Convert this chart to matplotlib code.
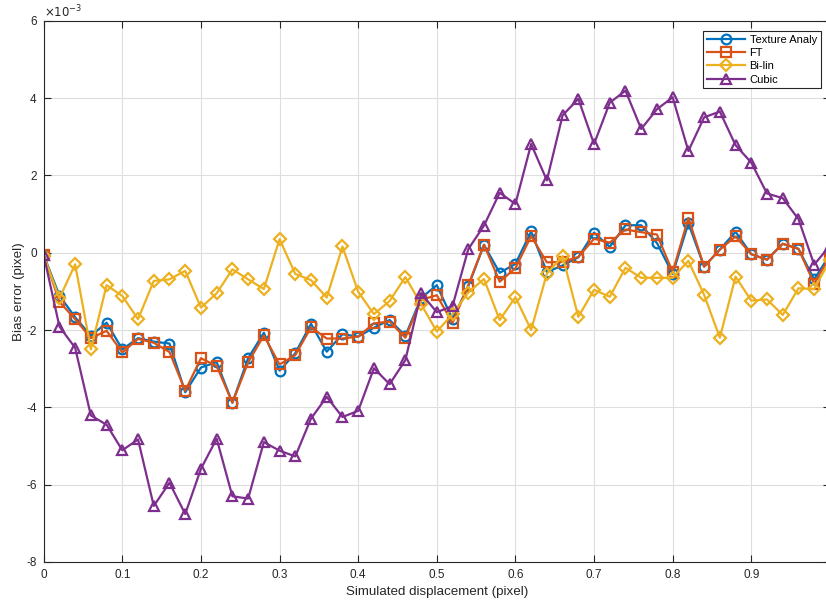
import numpy as np
import matplotlib
matplotlib.use("Agg")
import matplotlib.pyplot as plt

plt.rcParams["font.family"] = ["Liberation Sans", "DejaVu Sans"]
plt.rcParams["axes.unicode_minus"] = False

# Simulated displacement (pixel), step 0.02
x = np.round(np.arange(0, 51) * 0.02, 2)

# Bias error values, units of 1e-3 pixel
texture = [-0.06, -1.11, -1.67, -2.15, -1.81, -2.50, -2.21, -2.30, -2.35, -3.61,
           -2.97, -2.83, -3.88, -2.73, -2.07, -3.05, -2.60, -1.84, -2.56, -2.11,
           -2.17, -1.94, -1.74, -2.15, -1.17, -0.84, -1.72, -0.87, 0.20, -0.52,
           -0.29, 0.55, -0.50, -0.33, -0.12, 0.52, 0.15, 0.71, 0.71, 0.25,
           -0.55, 0.76, -0.36, 0.08, 0.54, -0.04, -0.18, 0.23, 0.10, -0.69,
           -0.05]
ft = [-0.06, -1.27, -1.72, -2.21, -2.02, -2.58, -2.23, -2.33, -2.57, -3.57,
      -2.73, -2.93, -3.88, -2.84, -2.14, -2.89, -2.65, -1.93, -2.22, -2.22,
      -2.17, -1.83, -1.78, -2.20, -1.22, -1.10, -1.82, -0.84, 0.21, -0.75,
      -0.40, 0.43, -0.25, -0.24, -0.11, 0.36, 0.26, 0.60, 0.53, 0.47,
      -0.50, 0.90, -0.36, 0.08, 0.42, -0.04, -0.18, 0.23, 0.10, -0.80,
      -0.10]
bilin = [-0.08, -1.18, -0.30, -2.50, -0.84, -1.12, -1.72, -0.73, -0.69, -0.47,
         -1.42, -1.05, -0.43, -0.69, -0.94, 0.35, -0.55, -0.71, -1.16, 0.16,
         -1.01, -1.59, -1.25, -0.63, -1.33, -2.04, -1.59, -1.03, -0.68, -1.74,
         -1.15, -2.00, -0.54, -0.09, -1.66, -0.96, -1.14, -0.39, -0.65, -0.65,
         -0.65, -0.21, -1.09, -2.20, -0.62, -1.24, -1.21, -1.61, -0.92, -0.94,
         -0.20]
cubic = [-0.06, -1.91, -2.46, -4.21, -4.45, -5.11, -4.83, -6.55, -5.95, -6.76,
         -5.59, -4.81, -6.30, -6.36, -4.90, -5.12, -5.27, -4.29, -3.73, -4.25,
         -4.09, -2.99, -3.40, -2.78, -1.05, -1.54, -1.38, 0.09, 0.70, 1.55,
         1.26, 2.81, 1.87, 3.55, 3.98, 2.81, 3.88, 4.19, 3.20, 3.71,
         4.02, 2.63, 3.50, 3.65, 2.78, 2.33, 1.53, 1.41, 0.87, -0.31,
         0.18]

series = [
    ("Texture Analy", texture, "#0072BD", "o"),
    ("FT", ft, "#D95319", "s"),
    ("Bi-lin", bilin, "#EDB120", "D"),
    ("Cubic", cubic, "#7E2F8E", "^"),
]
marker_sizes = {"o": 7, "s": 6.5, "D": 6, "^": 7.5}

W, H = 826, 604
fig = plt.figure(figsize=(W / 100, H / 100), dpi=100)
# axes runs a little past the right edge of the picture, like the reference
ax = fig.add_axes([43.7 / W, 42 / H, 786.2 / W, 541.3 / H])

for name, vals, col, mk in series:
    ax.plot(x, vals, color=col, lw=1.6, marker=mk, ms=marker_sizes[mk],
            mfc="none", mec=col, mew=1.6, label=name)

ax.set_xlim(0, 1)
ax.set_ylim(-8, 6)
ax.set_xticks(np.arange(0, 0.95, 0.1))
ax.set_xticklabels(["0", "0.1", "0.2", "0.3", "0.4", "0.5", "0.6", "0.7", "0.8", "0.9"])
ax.set_yticks(np.arange(-8, 7, 2))

ax.grid(True, color="#dedede", lw=0.8)
ax.set_axisbelow(True)
ax.tick_params(direction="in", top=True, right=True, length=5, width=0.8,
               labelsize=8.5, colors="#262626", pad=5)
for sp in ax.spines.values():
    sp.set_color("#262626")
    sp.set_linewidth(0.8)

ax.text(0.0, 1.0, r"$\times10^{-3}$", transform=ax.transAxes, ha="left",
        va="bottom", fontsize=8.5, color="#262626")

ax.set_xlabel("Simulated displacement (pixel)", fontsize=9.6, color="#262626", labelpad=4)
ax.set_ylabel("Bias error (pixel)", fontsize=9.6, color="#262626", labelpad=1)

leg = ax.legend(loc="upper right", bbox_to_anchor=(820.7 / W, 1 - 30.7 / H),
                bbox_transform=fig.transFigure, borderaxespad=0, fontsize=8,
                fancybox=False, framealpha=1, edgecolor="#262626",
                handlelength=3.4, handletextpad=0.4, labelspacing=0.3,
                borderpad=0.35)
leg.get_frame().set_linewidth(0.8)

fig.savefig("out.png", dpi=100)
